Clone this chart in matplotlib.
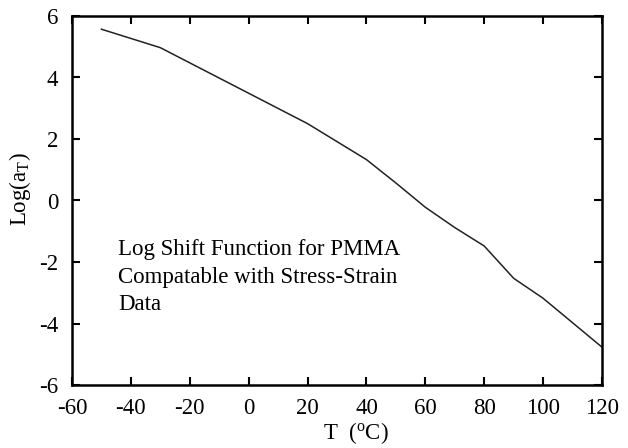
import matplotlib
matplotlib.use("Agg")
import matplotlib.pyplot as plt

temps = [-50, -30, 20, 40, 50, 60, 70, 80, 90, 100, 120]
log_at = [5.57, 4.97, 2.5, 1.33, 0.57, -0.22, -0.88, -1.48, -2.53, -3.18, -4.77]

x_ticks = [-60, -40, -20, 0, 20, 40, 60, 80, 100, 120]
y_ticks = [-6, -4, -2, 0, 2, 4, 6]

plt.rcParams['font.family'] = ['Liberation Serif', 'DejaVu Serif']
plt.rcParams['mathtext.fontset'] = 'custom'
plt.rcParams['mathtext.rm'] = 'Liberation Serif'
plt.rcParams['mathtext.it'] = 'Liberation Serif'
plt.rcParams['axes.unicode_minus'] = False

fig = plt.figure(figsize=(6.28, 4.48), dpi=100)
ax = fig.add_axes([72 / 628, 63 / 448, 530 / 628, 369 / 448])

ax.plot(temps, log_at, color='#222222', linewidth=1.1)

ax.set_xlim(-60, 120)
ax.set_ylim(-6, 6)
ax.set_xticks(x_ticks)
ax.set_yticks(y_ticks)
ax.tick_params(direction='in', length=6, width=1.5, top=True, right=True,
               labelsize=16.5, colors='black')
ax.tick_params(axis='x', pad=9)
ax.tick_params(axis='y', pad=10)
for s in ax.spines.values():
    s.set_linewidth(1.8)

ax.set_xlabel(r"T  ($^{\rm o}$C)", fontsize=16.5)
ax.set_ylabel(r"Log(a$_{\rm T}$)", fontsize=16.5)
ax.xaxis.set_label_coords(0.535, -0.095)
ax.yaxis.set_label_coords(-0.074, 0.53)

ax.text(-44.4, -1.25, "Log Shift Function for PMMA\nCompatable with Stress-Strain\nData",
        fontsize=16.5, ha='left', va='top', linespacing=1.42)

fig.savefig("out.png", dpi=100)
